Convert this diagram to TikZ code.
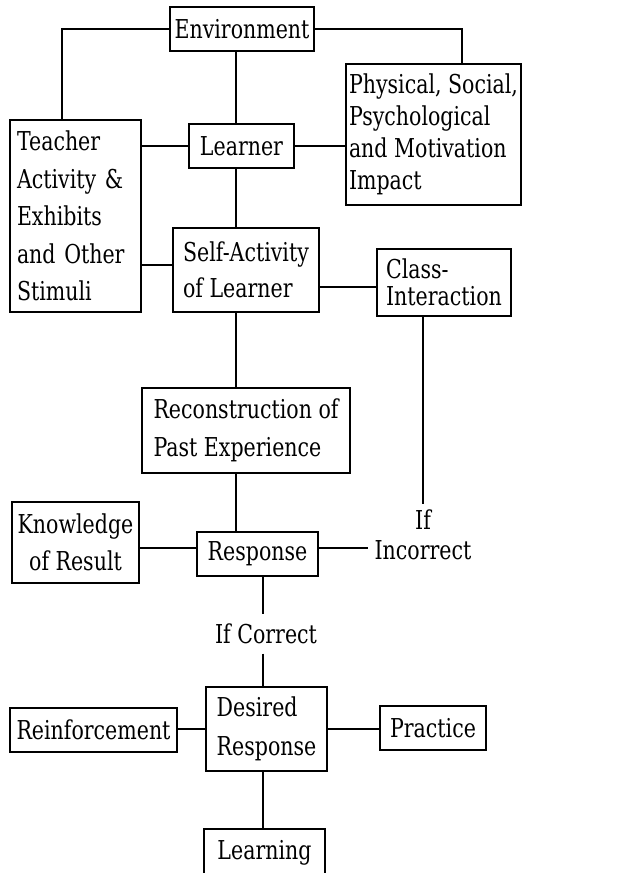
\documentclass[tikz,border=0pt]{standalone}
\usepackage{fontspec}
\setmainfont{DejaVu Serif}[FakeStretch=0.79]
\begin{document}
\begin{tikzpicture}[x=1pt,y=-1pt,line width=1.1pt,
  every node/.style={font=\fontsize{26}{37}\selectfont},
  box/.style={draw,inner sep=0pt,align=left},
  tag/.style={inner sep=0pt,align=center}]
\useasboundingbox (0,0) rectangle (626,873);
\clip (0,0) rectangle (626,873);
\coordinate (spine) at (236,0);
\coordinate (spine2) at (263,0);
\node[box,minimum width=144,minimum height=44] (env) at (242,29) {Environment};
\node[box,minimum width=105,minimum height=44] (learner) at (241.5,146) {Learner};
\node[box,minimum width=175,minimum height=141,font=\fontsize{26}{32}\selectfont] (phys) at (433.5,134.5) {Physical, Social,\\Psychological\\and Motivation\\Impact};
\node[box,inner xsep=7pt,text width=117pt,minimum height=192,font=\fontsize{26}{37.5}\selectfont] (teacher) at (75.5,216) {Teacher\\Activity \&\\Exhibits\\and Other\\Stimuli};
\node[box,minimum width=146,minimum height=84,font=\fontsize{26}{36}\selectfont] (self) at (246,270) {Self-Activity\\of Learner};
\node[box,minimum width=134,minimum height=67,font=\fontsize{26}{27}\selectfont] (class) at (444,282.5) {Class-\\Interaction};
\node[box,minimum width=208,minimum height=85,font=\fontsize{26}{38}\selectfont] (recon) at (246,430.5) {Reconstruction of\\Past Experience};
\node[box,minimum width=121,minimum height=44] (resp) at (257.5,554) {Response};
\node[box,align=center,minimum width=127,minimum height=81] (know) at (75.5,542.5) {Knowledge\\of Result};
\node[tag,inner xsep=6pt,inner ysep=5pt,font=\fontsize{26}{30}\selectfont] (ifinc) at (423,535) {If\\Incorrect};
\node[tag,inner ysep=9pt] (ifcor) at (266,634) {If Correct};
\node[box,minimum width=121,minimum height=84,font=\fontsize{26}{39}\selectfont] (desired) at (266.5,729) {Desired\\Response};
\node[box,minimum width=167,minimum height=44] (reinf) at (93.5,730) {Reinforcement};
\node[box,minimum width=106,minimum height=44] (practice) at (433,728) {Practice};
\node[box,minimum width=121,minimum height=48] (learning) at (264.5,853) {Learning};
\draw (env.west) -| ([xshift=-13.5pt]teacher.north)
  (env.east) -| ([xshift=28.5pt]phys.north)
  (env.south -| spine) -- (learner.north -| spine)
  (learner.west) -- (learner.west -| teacher.east)
  (learner.east) -- (learner.east -| phys.west)
  (learner.south -| spine) -- (self.north -| spine)
  ([yshift=5pt]self.west) -- ([yshift=5pt]self.west -| teacher.east)
  ([yshift=-4.5pt]class.west) -- ([yshift=-4.5pt]class.west -| self.east)
  (class.south -| ifinc.north) -- (ifinc.north)
  (self.south -| spine) -- (recon.north -| spine)
  (recon.south -| spine) -- (resp.north -| spine)
  ([yshift=6pt]resp.west) -- ([yshift=6pt]resp.west -| know.east)
  ([yshift=6pt]resp.east) -- ([yshift=6pt]resp.east -| ifinc.west)
  (resp.south -| spine2) -- (ifcor.north -| spine2)
  (ifcor.south -| spine2) -- (desired.north -| spine2)
  (desired.west) -- (desired.west -| reinf.east)
  (desired.east) -- (desired.east -| practice.west)
  (desired.south -| spine2) -- (learning.north -| spine2);
\end{tikzpicture}
\end{document}
